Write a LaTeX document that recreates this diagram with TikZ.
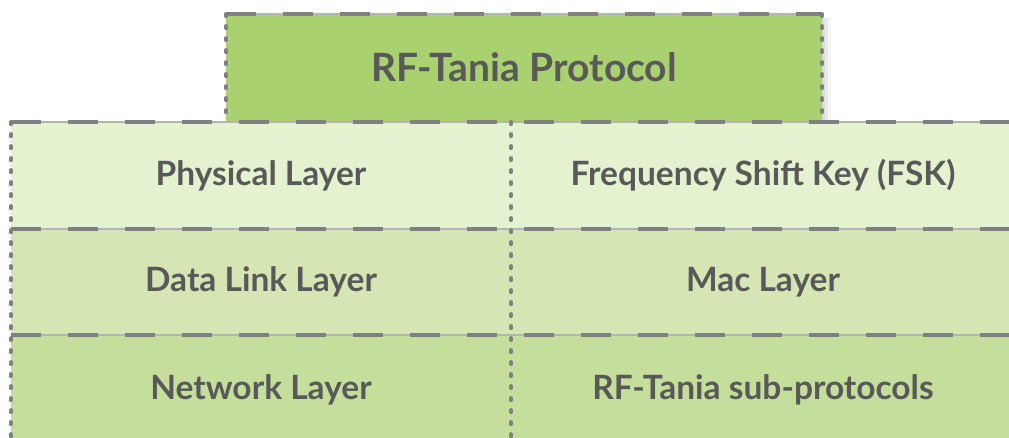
\documentclass[tikz,border=0pt]{standalone}
\usepackage{fontspec}
\setmainfont{Lato}
\definecolor{topgreen}{HTML}{AAD16F}
\definecolor{rowa}{HTML}{E4F2D0}
\definecolor{rowb}{HTML}{D5E6B4}
\definecolor{rowc}{HTML}{C5DE9B}
\definecolor{txt}{HTML}{595959}
\definecolor{edgedark}{HTML}{808080}
\definecolor{edgelight}{HTML}{B4B4B4}
\tikzset{
  cell/.style={inner sep=0pt, outer sep=0pt, text=txt, font=\fontsize{33.5}{36}\selectfont\bfseries, anchor=north west},
  hthin/.style={draw=edgelight, line width=1.2pt},
  hdash/.style={draw=edgedark, line width=4pt, dash pattern=on 30pt off 27pt},
  vdot/.style={draw=edgedark, line width=3.8pt, line cap=round, dash pattern=on 2.2pt off 9.8pt},
}
\begin{document}
\begin{tikzpicture}[x=1pt,y=-1pt]
\useasboundingbox (0,0) rectangle (1009,438);
% soft shadow of the top box
\foreach \w/\o in {9/0.04,6/0.05,3/0.06}{
  \fill[black, opacity=\o] (822,18) rectangle (822+\w,121);
}
% cells
\node[cell, fill=topgreen, minimum width=596pt, minimum height=107pt, font=\fontsize{39}{42}\selectfont\bfseries] (top) at (226,14) {RF-Tania Protocol};
\node[cell, fill=rowa, minimum width=500pt, minimum height=107pt] (pl) at (11,122) {Physical Layer};
\node[cell, fill=rowa, minimum width=504pt, minimum height=107pt] (fsk) at (511,122) {Frequency Shift Key (FSK)};
\node[cell, fill=rowb, minimum width=500pt, minimum height=106pt] (dl) at (11,229) {Data Link Layer};
\node[cell, fill=rowb, minimum width=504pt, minimum height=106pt] (mac) at (511,229) {Mac Layer};
\node[cell, fill=rowc, minimum width=500pt, minimum height=110pt] (nl) at (11,335) {Network Layer};
\node[cell, fill=rowc, minimum width=504pt, minimum height=110pt] (sub) at (511,335) {RF-Tania sub-protocols};
% horizontal edges
\foreach \a/\b in {top.north west/top.north east, pl.north west/fsk.north east, dl.north west/mac.north east, nl.north west/sub.north east}{
  \draw[hthin] (\a) -- (\b);
  \draw[hdash] (\a) -- (\b);
}
% vertical edges
\draw[vdot] (top.north west) -- (top.south west);
\draw[vdot] (top.north east) -- (top.south east);
\draw[vdot] (pl.north west) -- (nl.south west);
\draw[vdot] (fsk.north west) -- (sub.south west);
\end{tikzpicture}
\end{document}
